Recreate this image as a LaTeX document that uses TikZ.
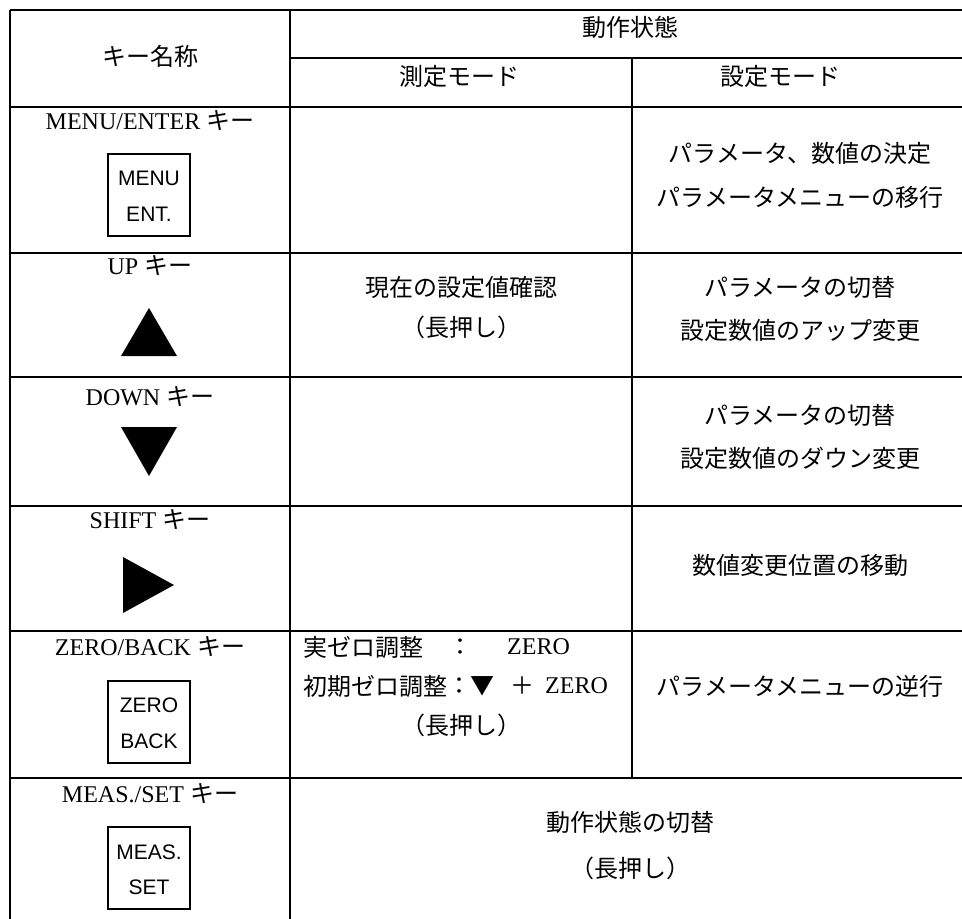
\documentclass[tikz,border=0pt]{standalone}
\usepackage{fontspec}
\setmainfont{Liberation Serif}
\newfontfamily\jp{Noto Sans CJK JP}
\newfontfamily\keyfont{Liberation Sans}
\begin{document}
\begin{tikzpicture}[x=1pt,y=-1pt]
\tikzset{
  gridline/.style={line width=2pt},
  keybox/.style={draw, line width=1.3pt, minimum width=82pt, minimum height=82pt, inner sep=0pt},
  txt/.style={inner sep=0pt, font=\fontsize{24pt}{28pt}\selectfont},
  jtxt/.style={inner sep=0pt, font=\fontsize{24pt}{28pt}\selectfont\jp},
  ktxt/.style={inner sep=0pt, font=\fontsize{21pt}{24pt}\selectfont\keyfont},
  tri/.style={fill=black},
}
\useasboundingbox (0,0) rectangle (962,919);
\clip (0,0) rectangle (962,919);
% grid
\coordinate (TL) at (10,10);
\draw[gridline] (10,10) -- (975,10);
\draw[gridline] (10,10) -- (10,930);
\draw[gridline] (290,10) -- (290,930);
\draw[gridline] (290,58) -- (975,58);
\draw[gridline] (632,58) -- (632,778);
\foreach \yy in {107,253,377,506,631,778} {\draw[gridline] (10,\yy) -- (975,\yy);}
% header
\node[jtxt] (h1) at (150,56) {キー名称};
\node[jtxt] (h2) at (630,27) {動作状態};
\node[jtxt] (h3) at (459,76) {測定モード};
\node[jtxt] (h4) at (780,76) {設定モード};
% MENU row
\node[txt] (k1) at (150,121) {MENU/ENTER\ {\jp キー}};
\node[keybox] (b1) at (149,195) {};
\node[ktxt] (b1a) at (149,178) {MENU};
\node[ktxt] (b1b) at (149,214.5) {ENT.};
\node[jtxt] (m3a) at (800,153) {パラメータ、数値の決定};
\node[jtxt] (m3b) at (800,197) {パラメータメニューの移行};
% UP row
\node[txt] (k2) at (150,266) {UP\ {\jp キー}};
\fill[tri] (149,308) -- (177,356) -- (121,356) -- cycle;
\node[jtxt] (u2a) at (461,287) {現在の設定値確認};
\node[jtxt] (u2b) at (461,327) {（長押し）};
\node[jtxt] (u3a) at (800,287) {パラメータの切替};
\node[jtxt] (u3b) at (800,330) {設定数値のアップ変更};
% DOWN row
\node[txt] (k3) at (150,397) {DOWN\ {\jp キー}};
\fill[tri] (121,427) -- (177,427) -- (149,476) -- cycle;
\node[jtxt] (d3a) at (800,415) {パラメータの切替};
\node[jtxt] (d3b) at (800,458) {設定数値のダウン変更};
% SHIFT row
\node[txt] (k4) at (150,520) {SHIFT\ {\jp キー}};
\fill[tri] (123,557) -- (174,585) -- (123,613) -- cycle;
\node[jtxt] (s3) at (800,565) {数値変更位置の移動};
% ZERO row
\node[txt] (k5) at (150,647) {ZERO/BACK\ {\jp キー}};
\node[keybox] (b5) at (149,722) {};
\node[ktxt] (b5a) at (149,705) {ZERO};
\node[ktxt] (b5b) at (149,741) {BACK};
\node[jtxt,anchor=west] (z2a) at (303,647) {実ゼロ調整};
\node[jtxt] (z2ac) at (460,647) {：};
\node[txt,anchor=west] (z2az) at (507,647) {ZERO};
\node[jtxt,anchor=west] (z2b) at (303,686) {初期ゼロ調整};
\node[jtxt] (z2bc) at (459,686) {：};
\node[jtxt] (z2bt) at (482,686) {▼};
\node[jtxt] (z2bp) at (522,686) {＋};
\node[txt,anchor=west] (z2bz) at (545,686) {ZERO};
\node[jtxt] (z2c) at (461,725) {（長押し）};
\node[jtxt] (z3) at (800,686) {パラメータメニューの逆行};
% MEAS row
\node[txt] (k6) at (150,794) {MEAS./SET\ {\jp キー}};
\node[keybox] (b6) at (149,868) {};
\node[ktxt] (b6a) at (149,852) {MEAS.};
\node[ktxt] (b6b) at (149,887) {SET};
\node[jtxt] (e1) at (630,822) {動作状態の切替};
\node[jtxt] (e2) at (630,868) {（長押し）};
\end{tikzpicture}
\end{document}
